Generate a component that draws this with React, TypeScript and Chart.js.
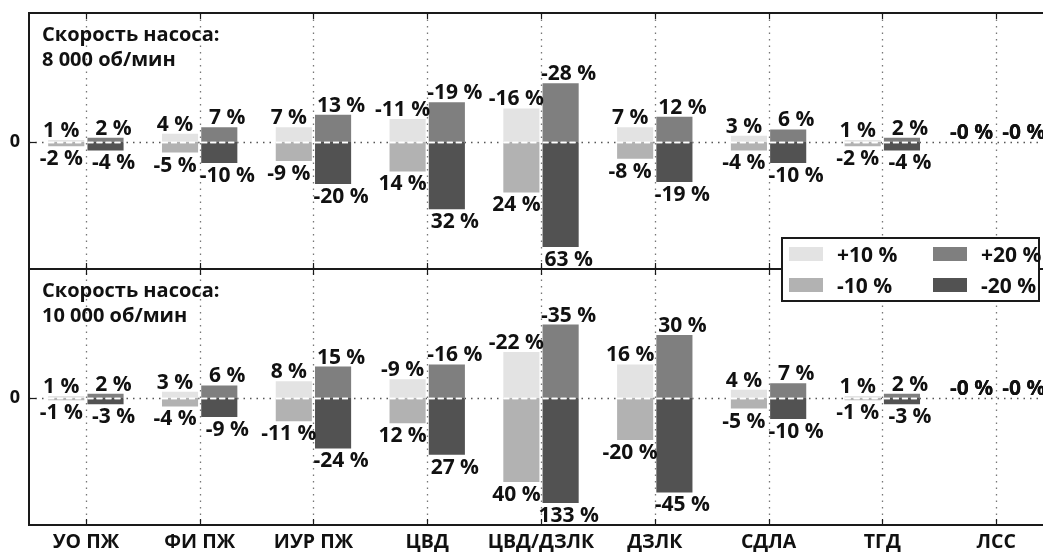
import { useEffect, useRef } from 'react';
import { Chart, registerables } from 'chart.js';

Chart.register(...registerables);

const categories = ['УО ПЖ', 'ФИ ПЖ', 'ИУР ПЖ', 'ЦВД', 'ЦВД/ДЗЛК', 'ДЗЛК', 'СДЛА', 'ТГД', 'ЛСС'];
const seriesNames = ['+10 %', '-10 %', '+20 %', '-20 %'];
const panelTitles = [
  ['Скорость насоса:', '8 000 об/мин'],
  ['Скорость насоса:', '10 000 об/мин'],
];

// 8 000 об/мин
const top_plus10 = [1, 4, 7, -11, -16, 7, 3, 1, -0];
const top_minus10 = [-2, -5, -9, 14, 24, -8, -4, -2, -0];
const top_plus20 = [2, 7, 13, -19, -28, 12, 6, 2, -0];
const top_minus20 = [-4, -10, -20, 32, 63, -19, -10, -4, -0];

// 10 000 об/мин
const bot_plus10 = [1, 3, 8, -9, -22, 16, 4, 1, -0];
const bot_minus10 = [-1, -4, -11, 12, 40, -20, -5, -1, -0];
const bot_plus20 = [2, 6, 15, -16, -35, 30, 7, 2, -0];
const bot_minus20 = [-3, -9, -24, 27, 133, -45, -10, -3, -0];

const BAR_CAP = 50;
const Y_MIN = -60.5;
const Y_MAX = 61.5;

const seriesColors = ['#e3e3e3', '#b2b2b2', '#7f7f7f', '#525252'];
const seriesDir = [1, -1, 1, -1];
const seriesStack = ['L', 'L', 'R', 'R'];
const FONT = "'Open Sans', 'DejaVu Sans', sans-serif";
const TEXT = '#111111';
const FRAME = '#1a1a1a';

const fmt = (v: number) => (Object.is(v, -0) ? '-0' : String(v)) + ' %';

const panels = [
  { axis: 'yTop', series: [top_plus10, top_minus10, top_plus20, top_minus20] },
  { axis: 'yBot', series: [bot_plus10, bot_minus10, bot_plus20, bot_minus20] },
];

const decorPlugin = {
  id: 'decor',
  beforeDatasetsDraw(chart: any) {
    const { ctx, chartArea, scales } = chart;
    const x = scales.x;
    ctx.save();
    ctx.strokeStyle = '#777777';
    ctx.lineWidth = 1.3;
    ctx.setLineDash([1.5, 5]);
    categories.forEach((_, i) => {
      const px = Math.round(x.getPixelForValue(i)) + 0.5;
      ctx.beginPath();
      ctx.moveTo(px, chartArea.top);
      ctx.lineTo(px, chartArea.bottom);
      ctx.stroke();
    });
    ctx.strokeStyle = '#555555';
    ['yTop', 'yBot'].forEach((id) => {
      const py = Math.round(scales[id].getPixelForValue(0)) + 0.5;
      ctx.beginPath();
      ctx.moveTo(chartArea.left, py);
      ctx.lineTo(chartArea.right, py);
      ctx.stroke();
    });
    ctx.restore();
  },
  afterDatasetsDraw(chart: any) {
    const { ctx } = chart;
    ctx.save();
    ctx.strokeStyle = '#ffffff';
    ctx.lineWidth = 1.5;
    ctx.setLineDash([6, 3]);
    chart.data.datasets.forEach((ds: any, di: number) => {
      const meta = chart.getDatasetMeta(di);
      meta.data.forEach((el: any) => {
        if (Math.abs(el.y - el.base) < 0.5) return;
        const py = Math.round(el.base) + 0.5;
        ctx.beginPath();
        ctx.moveTo(el.x - el.width / 2, py);
        ctx.lineTo(el.x + el.width / 2, py);
        ctx.stroke();
      });
    });
    ctx.setLineDash([]);

    ctx.fillStyle = TEXT;
    ctx.font = `bold 21px ${FONT}`;
    ctx.textAlign = 'center';
    ctx.textBaseline = 'alphabetic';
    chart.data.datasets.forEach((ds: any, di: number) => {
      const meta = chart.getDatasetMeta(di);
      meta.data.forEach((el: any, i: number) => {
        const txt = fmt(ds.rawLabels[i]);
        const lx = el.x + (ds.side < 0 ? -5 : 8);
        const h = el.base - el.y;
        if (ds.dir > 0 || Math.abs(h) < 0.5) {
          ctx.fillText(txt, lx, Math.min(el.y, el.base) - 3);
        } else {
          ctx.fillText(txt, lx, el.y + 19);
        }
      });
    });
    ctx.restore();
  },
  afterDraw(chart: any) {
    const { ctx, chartArea, scales } = chart;
    const x = scales.x;
    const yT = scales.yTop;
    const yB = scales.yBot;
    ctx.save();
    ctx.strokeStyle = FRAME;
    ctx.lineWidth = 2;
    ctx.strokeRect(chartArea.left, chartArea.top, chartArea.right - chartArea.left, chartArea.bottom - chartArea.top);
    const divY = yT.bottom;
    ctx.beginPath();
    ctx.moveTo(chartArea.left, divY);
    ctx.lineTo(chartArea.right, divY);
    ctx.stroke();

    ctx.lineWidth = 1.2;
    categories.forEach((_, i) => {
      const px = Math.round(x.getPixelForValue(i)) + 0.5;
      [[chartArea.top, 1], [divY, -1], [divY, 1], [chartArea.bottom, -1]].forEach(([yy, d]) => {
        ctx.beginPath();
        ctx.moveTo(px, yy);
        ctx.lineTo(px, yy + d * 6);
        ctx.stroke();
      });
    });
    [yT, yB].forEach((s) => {
      const py = Math.round(s.getPixelForValue(0)) + 0.5;
      ctx.beginPath();
      ctx.moveTo(chartArea.left, py);
      ctx.lineTo(chartArea.left + 7, py);
      ctx.stroke();
    });

    ctx.fillStyle = TEXT;
    ctx.font = `bold 20px ${FONT}`;
    ctx.textAlign = 'left';
    ctx.textBaseline = 'alphabetic';
    [yT, yB].forEach((s, p) => {
      ctx.fillText(panelTitles[p][0], chartArea.left + 13, s.top + 28);
      ctx.fillText(panelTitles[p][1], chartArea.left + 13, s.top + 53);
    });

    const bw = 257;
    const bh = 63;
    const bx = chartArea.right - 14 - bw;
    const by = divY - 31;
    ctx.fillStyle = '#ffffff';
    ctx.fillRect(bx, by, bw, bh);
    ctx.strokeStyle = FRAME;
    ctx.lineWidth = 2;
    ctx.strokeRect(bx, by, bw, bh);
    const order = [0, 2, 1, 3];
    ctx.font = `bold 21px ${FONT}`;
    order.forEach((s, k) => {
      const col = k % 2;
      const row = Math.floor(k / 2);
      const sx = bx + 7 + col * 144;
      const sy = by + 9 + row * 31;
      ctx.fillStyle = seriesColors[s];
      ctx.fillRect(sx, sy, 34, 14);
      ctx.fillStyle = TEXT;
      ctx.fillText(seriesNames[s], sx + 48, sy + 15);
    });
    ctx.restore();
  },
};

export default function App() {
  const canvasRef = useRef<HTMLCanvasElement | null>(null);

  useEffect(() => {
    if (!canvasRef.current) return;
    const datasets = panels.flatMap((p) =>
      p.series.map((vals, s) => ({
        label: seriesNames[s],
        data: vals.map((v) => seriesDir[s] * Math.min(Math.abs(v), BAR_CAP)),
        yAxisID: p.axis,
        stack: seriesStack[s],
        backgroundColor: seriesColors[s],
        borderWidth: 0,
        categoryPercentage: 0.69,
        barPercentage: 0.92,
        rawLabels: vals,
        dir: seriesDir[s],
        side: s < 2 ? -1 : 1,
      }))
    );

    const yAxis = () => ({
      type: 'linear' as const,
      position: 'left' as const,
      stack: 'panels',
      stackWeight: 1,
      min: Y_MIN,
      max: Y_MAX,
      grid: { display: false, drawTicks: false },
      border: { display: false },
      ticks: {
        padding: 9,
        color: TEXT,
        font: { family: FONT, weight: 'bold' as const, size: 18 },
      },
      afterBuildTicks: (s: any) => {
        s.ticks = [{ value: 0 }];
      },
      afterFit: (s: any) => {
        s.width = 29;
        s.paddingTop = 0;
        s.paddingBottom = 0;
      },
    });

    const chart = new Chart(canvasRef.current, {
      type: 'bar',
      data: { labels: categories, datasets: datasets as any },
      options: {
        animation: false,
        responsive: false,
        maintainAspectRatio: false,
        layout: { padding: { left: 0, right: 3, top: 13, bottom: 0 } },
        plugins: { legend: { display: false }, tooltip: { enabled: false } },
        scales: {
          x: {
            type: 'category',
            grid: { display: false, drawTicks: false },
            border: { display: false },
            ticks: {
              padding: 6,
              color: TEXT,
              autoSkip: false,
              maxRotation: 0,
              font: { family: FONT, weight: 'bold', size: 19.5 },
            },
            afterFit: (s: any) => {
              s.height = 27;
              s.paddingLeft = 0;
              s.paddingRight = 0;
            },
          },
          yBot: yAxis(),
          yTop: yAxis(),
        } as any,
      },
      plugins: [decorPlugin],
    });
    return () => chart.destroy();
  }, []);

  return (
    <div style={{ position: 'fixed', left: 0, top: 0, width: 1043, height: 552, overflow: 'hidden', background: '#fff' }}>
      <canvas ref={canvasRef} width={1056} height={552} style={{ display: 'block', width: 1056, height: 552 }} />
    </div>
  );
}
